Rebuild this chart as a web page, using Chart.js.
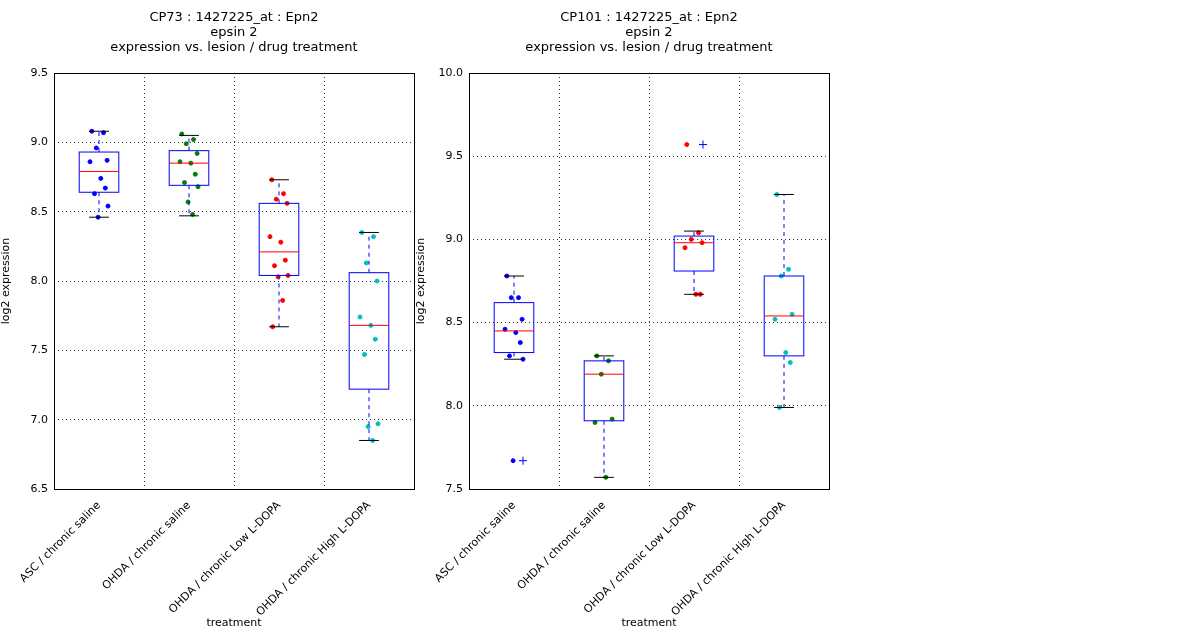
<!DOCTYPE html>
<html><head><meta charset="utf-8">
<script src="https://cdn.jsdelivr.net/npm/chart.js@4/dist/chart.umd.min.js"></script>
<style>
body{margin:0;background:#fff;width:1200px;height:640px;position:relative;overflow:hidden}
canvas{position:absolute;top:0}
</style></head><body>
<canvas id="c1" style="left:0" width="420" height="640"></canvas>
<canvas id="c2" style="left:415px" width="420" height="640"></canvas>
<script>
const categories = ['ASC / chronic saline', 'OHDA / chronic saline', 'OHDA / chronic Low L-DOPA', 'OHDA / chronic High L-DOPA'];
const colors = ['#0000ff', '#007f00', '#ff0000', '#00bfbf'];
const jitter = [-0.08, 0.05, -0.03, 0.09, -0.1, 0.02, 0.07, -0.05, 0.1, -0.01, 0.04, -0.07];

// CP73
const cp73Points = [
  [9.08, 9.07, 8.96, 8.87, 8.86, 8.74, 8.67, 8.63, 8.54, 8.46],
  [9.06, 9.02, 8.99, 8.92, 8.86, 8.85, 8.77, 8.71, 8.68, 8.57, 8.48],
  [8.73, 8.63, 8.59, 8.56, 8.32, 8.28, 8.15, 8.11, 8.04, 8.03, 7.86, 7.67],
  [8.35, 8.32, 8.13, 8.00, 7.74, 7.68, 7.58, 7.47, 6.97, 6.95, 6.85]
];
// [whiskerLow, q1, median, q3, whiskerHigh]
const cp73Box = [
  [8.46, 8.64, 8.79, 8.93, 9.08],
  [8.47, 8.69, 8.85, 8.94, 9.05],
  [7.67, 8.04, 8.21, 8.56, 8.73],
  [6.85, 7.22, 7.68, 8.06, 8.35]
];
const cp73Outliers = [[], [], [], []];

// CP101
const cp101Points = [
  [8.78, 8.65, 8.65, 8.52, 8.46, 8.44, 8.38, 8.30, 8.28, 7.67],
  [8.30, 8.27, 8.19, 7.92, 7.90, 7.57],
  [9.57, 9.04, 9.00, 8.98, 8.95, 8.67, 8.67],
  [9.27, 8.82, 8.78, 8.55, 8.52, 8.32, 8.26, 7.99]
];
const cp101Box = [
  [8.28, 8.32, 8.45, 8.62, 8.78],
  [7.57, 7.91, 8.19, 8.27, 8.30],
  [8.67, 8.81, 8.98, 9.02, 9.05],
  [7.99, 8.30, 8.54, 8.78, 9.27]
];
const cp101Outliers = [[7.67], [], [9.57], []];

const FONT = 'DejaVu Sans';

function makeChart(id, titleLines, points, boxes, outliers, yMin, yMax) {
  const datasets = points.map((vals, i) => ({
    type: 'scatter',
    data: vals.map((v, j) => ({ x: i + 1 + jitter[j % jitter.length], y: v })),
    backgroundColor: colors[i], borderColor: colors[i],
    pointRadius: 2, pointHoverRadius: 2
  }));
  const outData = [];
  outliers.forEach((vals, i) => vals.forEach(v => outData.push({ x: i + 1.1, y: v })));
  datasets.push({
    type: 'scatter', data: outData, pointStyle: 'cross',
    borderColor: '#0000ff', borderWidth: 1, pointRadius: 4
  });

  const boxPlugin = {
    id: 'boxes',
    afterDatasetsDraw(chart) {
      const c = chart.ctx, xs = chart.scales.x, ys = chart.scales.y, a = chart.chartArea;
      c.save();
      // vertical grid between categories
      c.strokeStyle = '#000'; c.lineWidth = 0.8; c.setLineDash([1, 3]);
      [1.5, 2.5, 3.5].forEach(v => {
        const px = Math.round(xs.getPixelForValue(v)) + 0.5;
        c.beginPath(); c.moveTo(px, a.top); c.lineTo(px, a.bottom); c.stroke();
      });
      boxes.forEach((b, i) => {
        const x = i + 1;
        const l = xs.getPixelForValue(x - 0.22), r = xs.getPixelForValue(x + 0.22);
        const cl = xs.getPixelForValue(x - 0.11), cr = xs.getPixelForValue(x + 0.11);
        const cx = xs.getPixelForValue(x);
        const [lo, q1, med, q3, hi] = b.map(v => ys.getPixelForValue(v));
        c.setLineDash([4, 4]); c.strokeStyle = '#0000ff'; c.lineWidth = 1;
        c.beginPath(); c.moveTo(cx, q3); c.lineTo(cx, hi); c.moveTo(cx, q1); c.lineTo(cx, lo); c.stroke();
        c.setLineDash([]); c.strokeStyle = '#000';
        c.beginPath(); c.moveTo(cl, hi); c.lineTo(cr, hi); c.moveTo(cl, lo); c.lineTo(cr, lo); c.stroke();
        c.strokeStyle = '#0000ff';
        c.strokeRect(l, q3, r - l, q1 - q3);
        c.strokeStyle = '#ff0000';
        c.beginPath(); c.moveTo(l, med); c.lineTo(r, med); c.stroke();
      });
      c.setLineDash([]); c.strokeStyle = '#000'; c.lineWidth = 1;
      c.strokeRect(a.left + 0.5, a.top + 0.5, a.right - a.left, a.bottom - a.top);
      // title
      c.fillStyle = '#000'; c.font = '13px ' + FONT; c.textAlign = 'center'; c.textBaseline = 'top';
      const mid = (a.left + a.right) / 2;
      titleLines.forEach((t, k) => c.fillText(t, mid, 11 + k * 15));
      c.restore();
    }
  };

  return new Chart(document.getElementById(id), {
    data: { datasets },
    plugins: [boxPlugin],
    options: {
      responsive: false, animation: false,
      layout: { padding: { top: 73, right: 6 } },
      plugins: { legend: { display: false }, tooltip: { enabled: false } },
      scales: {
        x: {
          type: 'linear', min: 0.5, max: 4.5,
          afterBuildTicks: s => { s.ticks = [1, 2, 3, 4].map(v => ({ value: v })); },
          afterFit: s => { s.height = 151; },
          grid: { display: false },
          border: { display: false },
          ticks: {
            callback: v => categories[v - 1], minRotation: 45, maxRotation: 45,
            color: '#000', font: { family: FONT, size: 11 }, padding: 2
          },
          title: { display: true, text: 'treatment', color: '#000', font: { family: FONT, size: 11 }, padding: { top: 0, bottom: 10 } }
        },
        y: {
          min: yMin, max: yMax,
          afterFit: s => { s.width = 54; },
          border: { display: false },
          grid: { color: '#000', lineWidth: 0.8, tickLength: 4, drawTicks: false },
          ticks: { stepSize: 0.5, callback: v => v.toFixed(1), color: '#000', font: { family: FONT, size: 11 }, padding: 6 },
          title: { display: true, text: 'log2 expression', color: '#000', font: { family: FONT, size: 11 }, padding: 0 }
        }
      }
    }
  });
}

// dotted horizontal grid
Chart.defaults.scale.grid.borderDash = [1, 3];
Chart.overrides.scatter = Chart.overrides.scatter || {};

const ch1 = makeChart('c1', ['CP73 : 1427225_at : Epn2', 'epsin 2', 'expression vs. lesion / drug treatment'], cp73Points, cp73Box, cp73Outliers, 6.5, 9.5);
const ch2 = makeChart('c2', ['CP101 : 1427225_at : Epn2', 'epsin 2', 'expression vs. lesion / drug treatment'], cp101Points, cp101Box, cp101Outliers, 7.5, 10.0);
[ch1, ch2].forEach(ch => { ch.options.scales.y.grid.borderDash = [1, 3]; ch.options.scales.y.border.dash = [1, 3]; ch.update(); });
</script>
</body></html>
